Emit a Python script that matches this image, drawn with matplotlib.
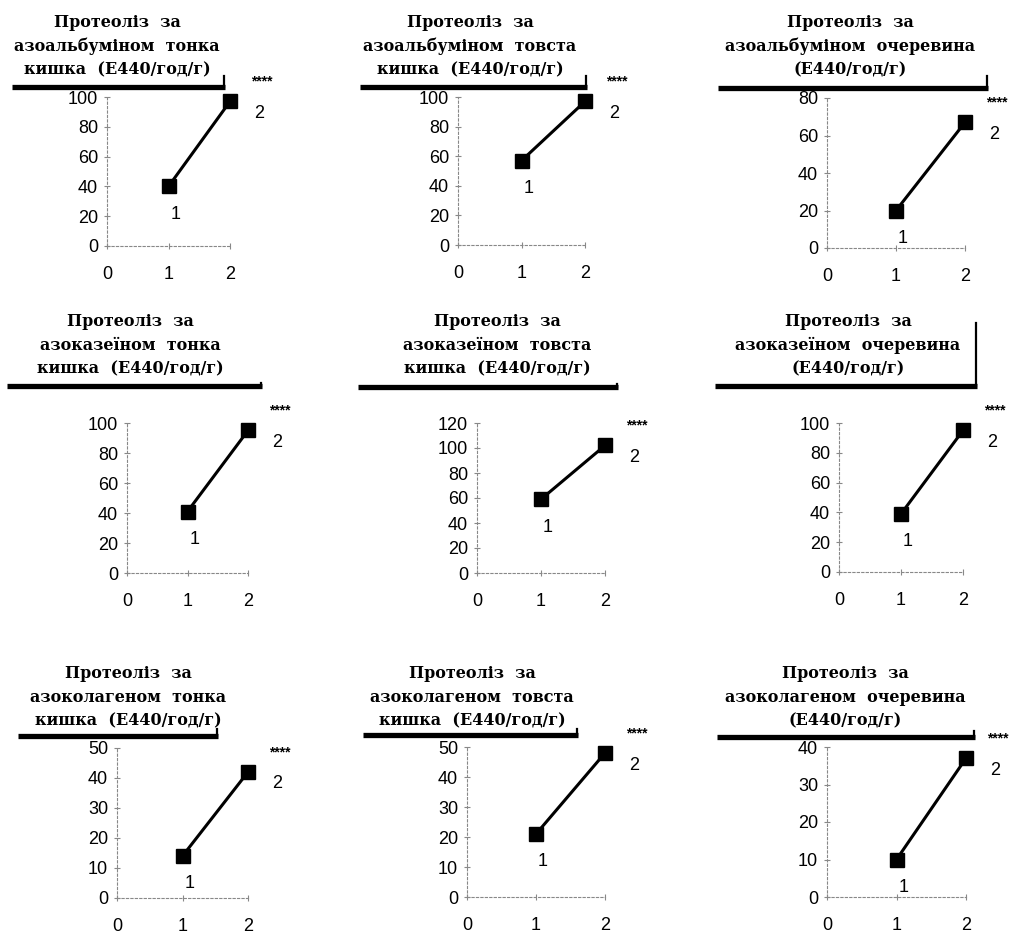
import matplotlib
matplotlib.use("Agg")
import matplotlib.pyplot as plt
from matplotlib.lines import Line2D

# data: x groups and values
groups = [1, 2]
substrates = ["азоальбуміном", "азоказеїном", "азоколагеном"]
sites = ["тонка\nкишка", "товста\nкишка", "очеревина\n"]

albumin = [[40, 97], [57, 97], [20, 67]]
casein = [[41, 95], [59, 102], [39, 95]]
collagen = [[14, 42], [21, 48], [10, 37]]
values = [albumin, casein, collagen]

y_max = [[100, 100, 80], [100, 120, 100], [50, 50, 40]]
y_step = [20, 10]

# layout in pixels (left of axis, x=2 position, y of zero, y of top)
W, H = 1010, 936
axis_x0 = [[107, 458, 827], [127, 477, 839], [117, 467, 827]]
axis_x2 = [[230, 585, 965], [248, 605, 963], [248, 605, 966]]
axis_ybot = [[246, 245, 248], [573, 573, 572], [898, 897, 897]]
axis_ytop = [[97, 97, 98], [423, 423, 423], [748, 747, 747]]
title_cx = [[117, 470, 850], [130, 497, 848], [128, 472, 845]]
title_cy = [46, 345, 697]
bar_x = [[(12, 225), (360, 587), (718, 988)],
         [(7, 262), (358, 618), (715, 977)],
         [(18, 218), (363, 578), (717, 975)]]
bar_y = [[87, 87, 88], [386, 387, 386], [736, 735, 737]]
cap_top = [[76, 76, 76], [383, 384, 323], [729, 729, 731]]

fig = plt.figure(figsize=(W / 100, H / 100), dpi=100)
fig.patch.set_facecolor("white")


def fx(px):
    return px / W


def fy(py):
    return 1 - py / H


for r in range(3):
    for c in range(3):
        x0, x2 = axis_x0[r][c], axis_x2[r][c]
        yb, yt = axis_ybot[r][c], axis_ytop[r][c]
        ax = fig.add_axes([fx(x0), fy(yb), fx(x2 - x0), (yb - yt) / H])
        ax.set_xlim(0, 2)
        ax.set_ylim(0, y_max[r][c])
        for s in ["top", "right"]:
            ax.spines[s].set_visible(False)
        for s in ["left", "bottom"]:
            ax.spines[s].set_color("#888888")
            ax.spines[s].set_linestyle((0, (2, 2)))
            ax.spines[s].set_linewidth(0.8)
        step = y_step[0] if r < 2 else y_step[1]
        ax.set_yticks(range(0, y_max[r][c] + 1, step))
        ax.set_xticks([0, 1, 2])
        ax.tick_params(axis="y", direction="inout", length=5, width=0.8,
                       color="#888888", pad=4, labelsize=13)
        ax.tick_params(axis="x", direction="inout", length=5, width=0.8,
                       color="#888888", pad=12, labelsize=13)
        for lab in ax.get_xticklabels() + ax.get_yticklabels():
            lab.set_fontfamily("Liberation Sans")

        v = values[r][c]
        ax.plot(groups, v, color="black", lw=2.2, marker="s", ms=10,
                mfc="black", mec="black", clip_on=False, zorder=5)
        ax.annotate("1", (groups[0], v[0]), xytext=(7, -28),
                    textcoords="offset pixels", ha="center", va="center",
                    fontsize=13, family="Liberation Sans", annotation_clip=False)
        ax.annotate("2", (groups[1], v[1]), xytext=(29, -12),
                    textcoords="offset pixels", ha="center", va="center",
                    fontsize=13, family="Liberation Sans", annotation_clip=False)
        ax.annotate("****", (groups[1], v[1]), xytext=(32, 20),
                    textcoords="offset pixels", ha="center", va="center",
                    fontsize=10, fontweight="bold", family="Liberation Sans",
                    annotation_clip=False)

        # title block with thick underline bar
        site = sites[c].split("\n")
        if site[1]:
            title = "Протеоліз  за\n%s  %s\n%s  (Е440/год/г)" % (substrates[r], site[0], site[1])
        else:
            title = "Протеоліз  за\n%s  %s\n(Е440/год/г)" % (substrates[r], site[0])
        fig.text(fx(title_cx[r][c]), fy(title_cy[r]), title, ha="center",
                 va="center", multialignment="center", fontsize=11.5,
                 fontweight="bold", family="DejaVu Serif", linespacing=1.5)
        bx0, bx1 = bar_x[r][c]
        by = bar_y[r][c]
        fig.add_artist(Line2D([fx(bx0), fx(bx1)], [fy(by), fy(by)],
                              transform=fig.transFigure, color="black",
                              lw=3.8, solid_capstyle="butt"))
        fig.add_artist(Line2D([fx(bx1 - 1), fx(bx1 - 1)], [fy(by), fy(cap_top[r][c])],
                              transform=fig.transFigure, color="black",
                              lw=1.6))

fig.savefig("out.png", dpi=100)
